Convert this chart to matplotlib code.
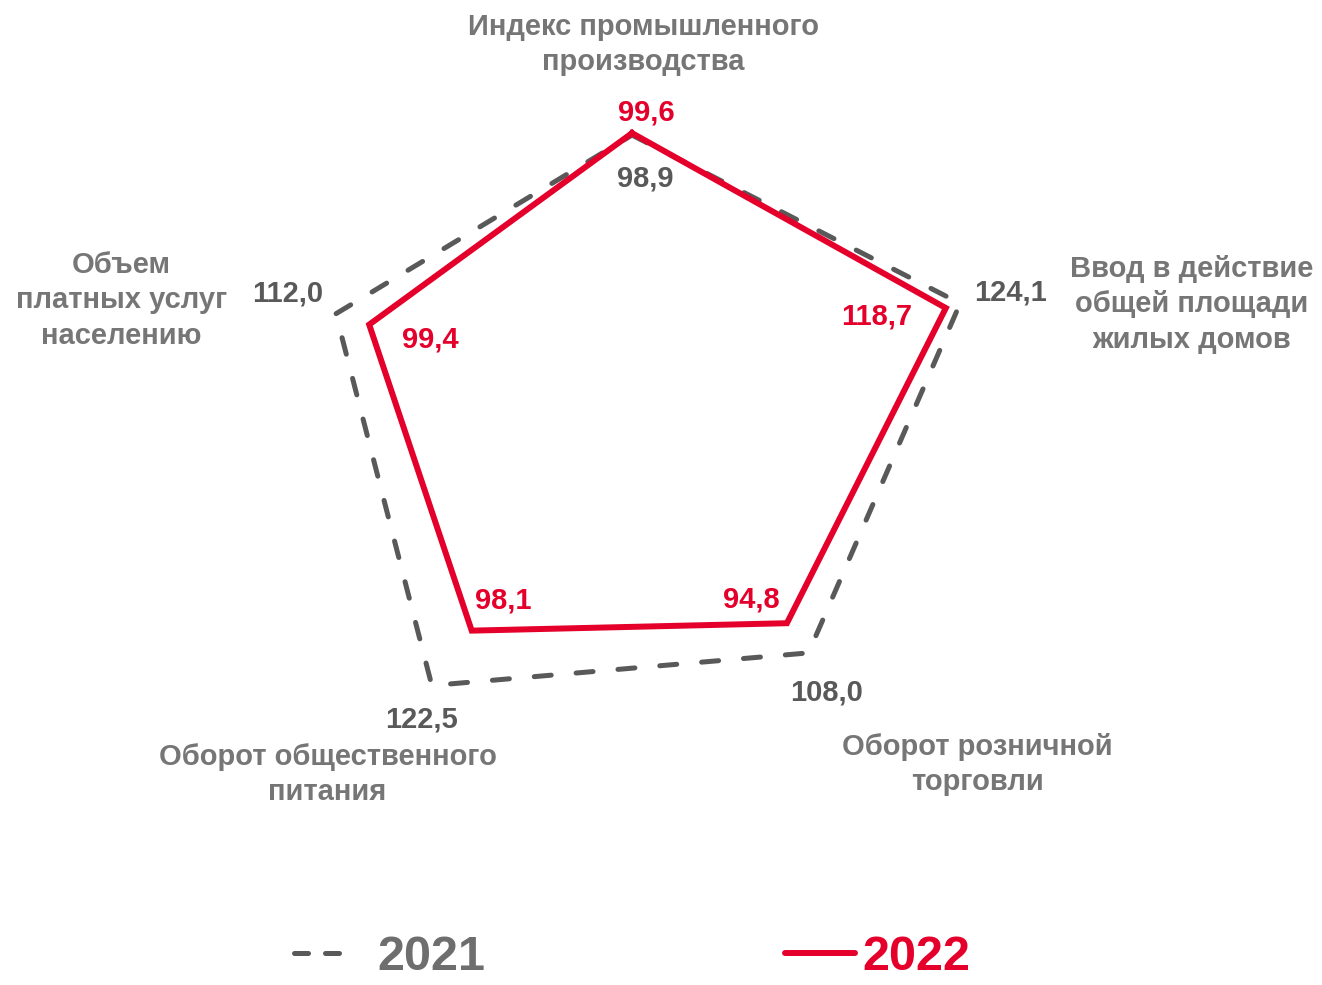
import numpy as np
import matplotlib.pyplot as plt
from matplotlib.lines import Line2D

plt.rcParams['font.family'] = ['Liberation Sans', 'DejaVu Sans']

# categories clockwise from the top
categories = ['Индекс промышленного\nпроизводства',
              'Ввод в действие\nобщей площади\nжилых домов',
              'Оборот розничной\nторговли',
              'Оборот общественного\nпитания',
              'Объем\nплатных услуг\nнаселению']
values_2021 = [98.9, 124.1, 108.0, 122.5, 112.0]
values_2022 = [99.6, 118.7, 94.8, 98.1, 99.4]
years = ['2021', '2022']

RED = '#E4002B'
DARK = '#595959'
LABEL = '#767676'

fig = plt.figure(figsize=(13.22, 9.85), dpi=100)
# centre of the pentagon at (632, 410) px, 2.78 px per unit
rmax = 130
side = rmax * 2.78 * 2
ax = fig.add_axes([(632 - side / 2) / 1322, (575 - side / 2) / 985,
                   side / 1322, side / 985], projection='polar')
ax.set_theta_zero_location('N')
ax.set_theta_direction(-1)
ax.set_ylim(0, rmax)
ax.set_xticks([])
ax.set_yticks([])
ax.grid(False)
ax.spines['polar'].set_visible(False)
ax.patch.set_visible(False)

angles = np.linspace(0, 2 * np.pi, len(categories), endpoint=False)
th = np.append(angles, angles[0])

ax.plot(th, values_2021 + values_2021[:1], color=DARK, lw=3.6,
        dashes=(3.4, 5.0), dash_capstyle='round', zorder=2)
ax.plot(th, values_2022 + values_2022[:1], color=RED, lw=4.3,
        solid_joinstyle='miter', zorder=3)

def fmt(v):
    return f'{v:.1f}'.replace('.', ',')

# value label offsets in pixels
off_2022 = [(14, 21), (-69, -8), (-36, 24), (32, 30), (61, -15)]
off_2021 = [(13, -43), (50, 11), (18, -40), (-10, -34), (-48, 20)]
for a, v, o in zip(angles, values_2022, off_2022):
    ax.annotate(fmt(v), (a, v), xytext=o, textcoords='offset pixels',
                ha='center', va='center', fontsize=21, fontweight='bold',
                color=RED)
for a, v, o in zip(angles, values_2021, off_2021):
    ax.annotate(fmt(v), (a, v), xytext=o, textcoords='offset pixels',
                ha='center', va='center', fontsize=21, fontweight='bold',
                color=DARK)

# category labels, offset from the outer ring
off_cat = [(11, 4), (216, -6), (133, -62), (-92, -72), (-167, -2)]
for a, c, o in zip(angles, categories, off_cat):
    ax.annotate(c, (a, rmax), xytext=o, textcoords='offset pixels',
                ha='center', va='center', fontsize=21, fontweight='bold',
                color=LABEL, linespacing=1.33)

# legend, one box per year
leg_prop = {'weight': 'bold', 'size': 35}
h21 = Line2D([], [], color=DARK, lw=3.6, dashes=(2.8, 3.4),
             dash_capstyle='round')
h22 = Line2D([], [], color=RED, lw=4.3, solid_capstyle='round')
leg1 = fig.legend([h21], years[:1], loc='center left',
                  bbox_to_anchor=(294 / 1322, 1 - 958 / 985),
                  frameon=False, borderpad=0, borderaxespad=0,
                  handlelength=0.98, handletextpad=0.74, prop=leg_prop)
leg2 = fig.legend([h22], years[1:], loc='center left',
                  bbox_to_anchor=(785 / 1322, 1 - 958 / 985),
                  frameon=False, borderpad=0, borderaxespad=0,
                  handlelength=1.44, handletextpad=0.15, prop=leg_prop)
leg1.get_texts()[0].set_color('#6E6E6E')
leg2.get_texts()[0].set_color(RED)

fig.savefig('out.png', dpi=100)
